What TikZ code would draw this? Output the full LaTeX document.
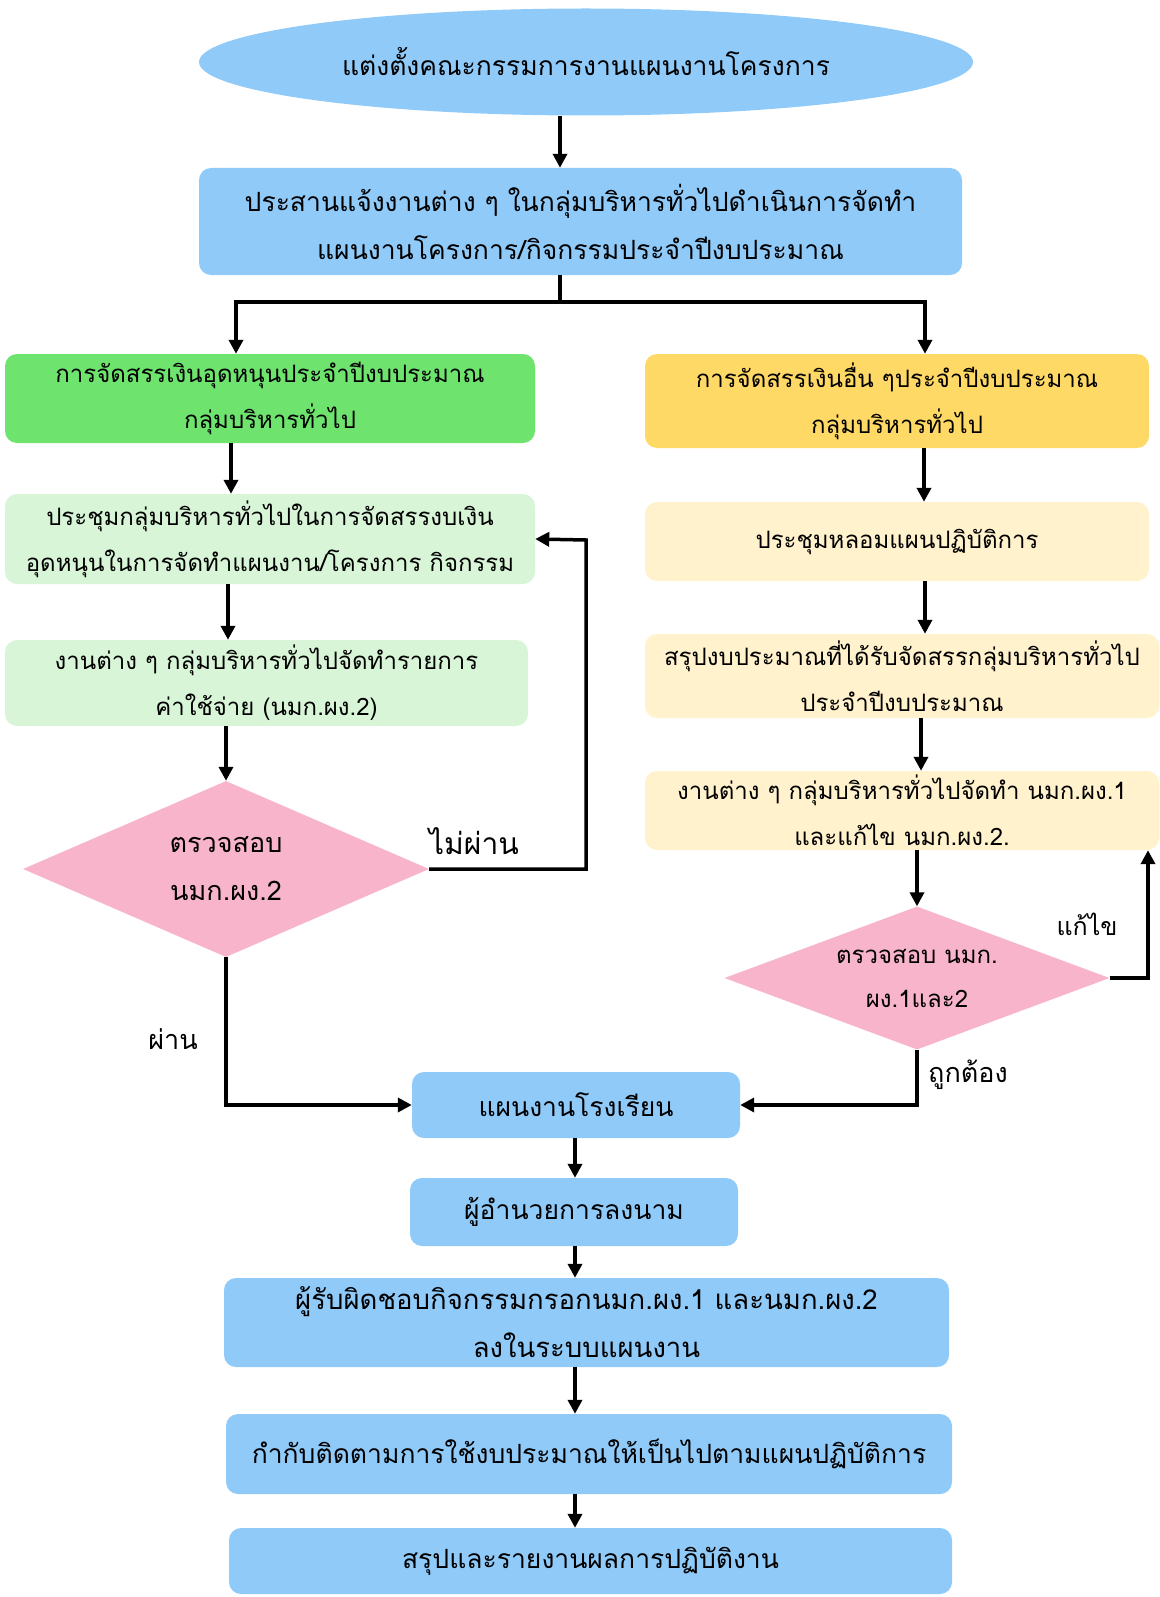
\documentclass[tikz,border=0pt]{standalone}
\usepackage{fontspec}
\newfontfamily\thaifont[Script=Thai]{Loma}
\usetikzlibrary{shapes.geometric,arrows.meta}
\definecolor{cblue}{HTML}{90CAF9}
\definecolor{cgreen}{HTML}{6EE36E}
\definecolor{clgreen}{HTML}{D8F5D8}
\definecolor{cyellow}{HTML}{FFD966}
\definecolor{ccream}{HTML}{FFF2CC}
\definecolor{cpink}{HTML}{F8B4CB}
\begin{document}
\begin{tikzpicture}[x=1pt,y=-1pt,
  txt/.style={font=\thaifont\fontsize{24}{46}\selectfont, align=center},
  big/.style={font=\thaifont\fontsize{26.5}{48}\selectfont},
  box/.style={txt, rectangle, rounded corners=12pt, inner sep=0pt},
  dia/.style={txt, diamond, inner sep=0pt, fill=cpink},
  lab/.style={font=\thaifont\fontsize{27}{30}\selectfont, inner sep=0pt},
  arr/.style={line width=3.5pt, -{Triangle[length=14pt,width=14pt]}},
  ln/.style={line width=3.5pt}]
\fill[white] (0,0) rectangle (1159,1597);
\useasboundingbox (0,0) rectangle (1159,1597);

\node[txt, big, ellipse, fill=cblue, minimum width=774pt, minimum height=107pt, inner sep=0pt] (top) at (586,62) {แต่งตั้งคณะกรรมการงานแผนงานโครงการ};
\node[box, big, fill=cblue, minimum width=763pt, minimum height=107pt] (b2) at (580.5,221.5) {ประสานแจ้งงานต่าง ๆ ในกลุ่มบริหารทั่วไปดำเนินการจัดทำ\\แผนงานโครงการ/กิจกรรมประจำปีงบประมาณ};

\node[box, fill=cgreen, minimum width=530pt, minimum height=89pt] (g1) at (270,398.5) {การจัดสรรเงินอุดหนุนประจำปีงบประมาณ\\กลุ่มบริหารทั่วไป};
\node[box, fill=clgreen, minimum width=530pt, minimum height=90pt] (g2) at (270,539) {ประชุมกลุ่มบริหารทั่วไปในการจัดสรรงบเงิน\\อุดหนุนในการจัดทำแผนงาน/โครงการ กิจกรรม};
\node[box, fill=clgreen, minimum width=523pt, minimum height=86pt] (g3) at (266.5,683) {งานต่าง ๆ กลุ่มบริหารทั่วไปจัดทำรายการ\\ค่าใช้จ่าย (นมก.ผง.2)};
\node[dia, font=\thaifont\fontsize{27}{48}\selectfont, aspect=2.3, minimum width=406pt, minimum height=176pt] (d1) at (226,869) {ตรวจสอบ\\นมก.ผง.2};

\node[box, fill=cyellow, minimum width=504pt, minimum height=94pt] (y1) at (897,401) {การจัดสรรเงินอื่น ๆประจำปีงบประมาณ\\กลุ่มบริหารทั่วไป};
\node[box, fill=ccream, minimum width=504pt, minimum height=79pt] (y2) at (897,541.5) {ประชุมหลอมแผนปฏิบัติการ};
\node[box, fill=ccream, minimum width=514pt, minimum height=84pt] (y3) at (902,676) {สรุปงบประมาณที่ได้รับจัดสรรกลุ่มบริหารทั่วไป\\ประจำปีงบประมาณ};
\node[box, fill=ccream, minimum width=514pt, minimum height=79pt] (y4) at (902,810.5) {งานต่าง ๆ กลุ่มบริหารทั่วไปจัดทำ นมก.ผง.1\\และแก้ไข นมก.ผง.2.};
\node[dia, font=\thaifont\fontsize{24}{44}\selectfont, aspect=2.7, minimum width=385pt, minimum height=143pt] (d2) at (917,978) {ตรวจสอบ นมก.\\ผง.1และ2};

\node[box, big, fill=cblue, minimum width=328pt, minimum height=66pt] (plan) at (576,1105) {แผนงานโรงเรียน};
\node[box, big, fill=cblue, minimum width=328pt, minimum height=68pt] (dir) at (574,1212) {ผู้อำนวยการลงนาม};
\node[box, fill=cblue, font=\thaifont\fontsize{27.5}{48}\selectfont, minimum width=725pt, minimum height=89pt] (resp) at (586.5,1322.5) {ผู้รับผิดชอบกิจกรรมกรอกนมก.ผง.1 และนมก.ผง.2\\ลงในระบบแผนงาน};
\node[box, big, fill=cblue, minimum width=726pt, minimum height=80pt] (mon) at (589,1454) {กำกับติดตามการใช้งบประมาณให้เป็นไปตามแผนปฏิบัติการ};
\node[box, big, fill=cblue, minimum width=723pt, minimum height=66pt] (rep) at (590.5,1561) {สรุปและรายงานผลการปฏิบัติงาน};

\node[lab, font=\thaifont\fontsize{30}{32}\selectfont] (l1) at (474,841) {ไม่ผ่าน};
\node[lab] (l2) at (173,1039) {ผ่าน};
\node[lab, font=\thaifont\fontsize{25}{30}\selectfont] (l3) at (1087,924) {แก้ไข};
\node[lab] (l4) at (968,1075) {ถูกต้อง};

\coordinate (split) at (560,302);
\draw[arr] (top.south -| 560,0) -- (b2.north -| 560,0);
\draw[ln] (b2.south -| split) -- (split);
\draw[arr] (split) -| (g1.north -| 236,0);
\draw[arr] (split) -| (y1.north -| 925,0);

\draw[arr] (g1.south -| 231,0) -- (g2.north -| 231,0);
\draw[arr] (g2.south -| 228,0) -- (g3.north -| 228,0);
\draw[arr] (g3.south -| 226,0) -- (d1.north);
\draw[arr] (d1.east) -| (586,540) -- (g2.east);
\draw[arr] (d1.south) |- (plan.west);

\draw[arr] (y1.south -| 924,0) -- (y2.north -| 924,0);
\draw[arr] (y2.south -| 925,0) -- (y3.north -| 925,0);
\draw[arr] (y3.south -| 921,0) -- (y4.north -| 921,0);
\draw[arr] (y4.south -| 917,0) -- (d2.north);
\draw[arr] (d2.east) -| (y4.south -| 1148,0);
\draw[arr] (d2.south) |- (plan.east);

\draw[arr] (plan.south -| 575,0) -- (dir.north -| 575,0);
\draw[arr] (dir.south -| 575,0) -- (resp.north -| 575,0);
\draw[arr] (resp.south -| 575,0) -- (mon.north -| 575,0);
\draw[arr] (mon.south -| 575,0) -- (rep.north -| 575,0);
\end{tikzpicture}
\end{document}
